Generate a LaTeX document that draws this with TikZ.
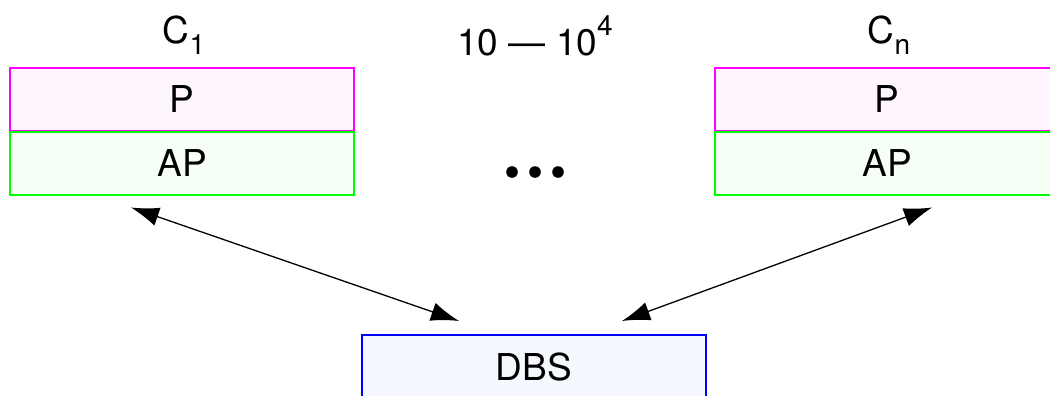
\documentclass[tikz,border=0pt]{standalone}
\usepackage{fontspec}
\setmainfont{TeX Gyre Heros}
\usetikzlibrary{arrows.meta}

\definecolor{pfill}{HTML}{FFF5FF}
\definecolor{apfill}{HTML}{F6FFF6}
\definecolor{dbsfill}{HTML}{F6F8FF}

\newcommand{\lowidx}[1]{\raisebox{-0.28em}{\fontsize{14}{16}\selectfont #1}}
\newcommand{\highidx}[1]{\raisebox{0.55em}{\fontsize{14}{16}\selectfont #1}}

\tikzset{
  layer/.style={draw, line width=1pt, minimum width=172pt, minimum height=31.5pt,
    inner sep=0pt, font=\fontsize{18.5}{22}\selectfont},
  player/.style={layer, draw={rgb,255:red,255;green,0;blue,255}, fill=pfill},
  aplayer/.style={layer, draw={rgb,255:red,0;green,255;blue,0}, fill=apfill},
  dbsbox/.style={layer, draw={rgb,255:red,0;green,0;blue,255}, fill=dbsfill, minimum height=32pt},
  tag/.style={font=\fontsize{18.5}{22}\selectfont, inner sep=0pt},
  link/.style={{Latex[length=14pt,width=9.5pt]}-{Latex[length=14pt,width=9.5pt]}, line width=0.65pt}
}

\begin{document}
\begin{tikzpicture}[x=0.5pt, y=-0.5pt]
            \clip (0,0) rectangle (1050,396);
            \useasboundingbox (0,0) rectangle (1050,396);
            % client 1
            \node[tag] (c1) at (184, 35) {C\lowidx{1}};
            \node[player] (p1) at (182, 99.5) {P};
            \node[aplayer] (ap1) at (182, 163) {AP};
            % client n
            \node[tag] (cn) at (889, 35) {C\lowidx{n}};
            \node[player] (pn) at (887, 99.5) {P};
            \node[aplayer] (apn) at (887, 163) {AP};
            % middle
            \node[tag] (count) at (535, 36) {10 --- 10\highidx{4}};
            \foreach \i in {-1,0,1}
              \fill (535+23*\i, 172) circle (5.8);
            % server
            \node[dbsbox] (dbs) at (534, 367) {DBS};
            \coordinate (a1) at ([shift={(-51,12)}]ap1.south);
            \coordinate (b1) at ([shift={(-75,-13)}]dbs.north);
            \coordinate (an) at ([shift={(45,12)}]apn.south);
            \coordinate (bn) at ([shift={(88,-13)}]dbs.north);
            \draw[link] (a1) -- (b1);
            \draw[link] (an) -- (bn);
        \end{tikzpicture}
\end{document}
